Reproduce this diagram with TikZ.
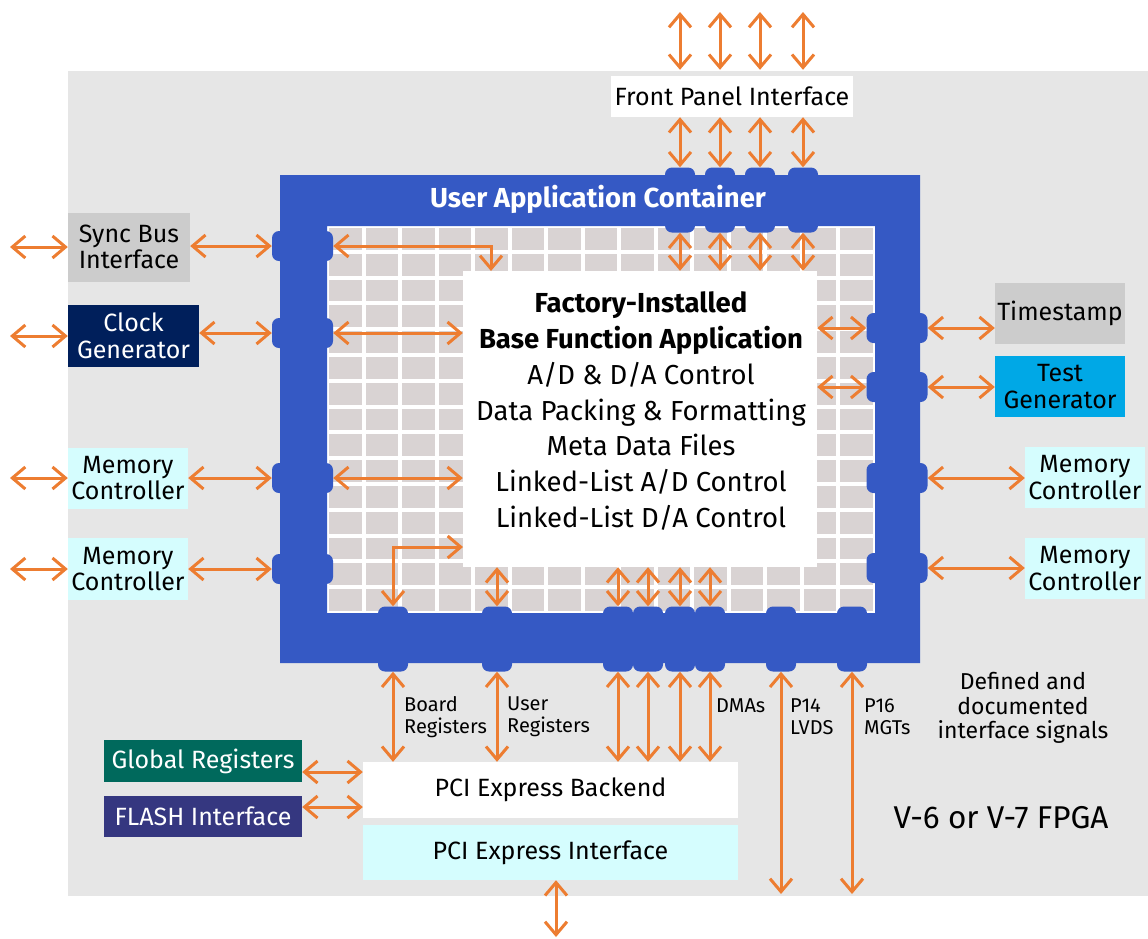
\documentclass[tikz,border=0pt]{standalone}
\usepackage{fontspec}
\setmainfont{Fira Sans}
\usetikzlibrary{arrows.meta}
\definecolor{bgg}{RGB}{230,230,230}
\definecolor{ublue}{RGB}{53,89,196}
\definecolor{aorange}{RGB}{237,125,49}
\definecolor{lcyan}{RGB}{213,253,254}
\definecolor{lgrey}{RGB}{204,204,204}
\definecolor{navy}{RGB}{0,31,91}
\definecolor{tgblue}{RGB}{0,168,230}
\definecolor{ggreen}{RGB}{0,105,92}
\definecolor{fpurple}{RGB}{53,55,128}
\definecolor{cellg}{RGB}{217,211,211}
\begin{document}
\begin{tikzpicture}[x=1pt,y=-1pt,
  box/.style={rectangle, inner sep=0pt, align=center, font=\fontsize{25}{26.5}\selectfont},
  blob/.style={rectangle, rounded corners=7pt, fill=ublue, inner sep=0pt},
  hblob/.style={blob, minimum width=61pt, minimum height=30pt},
  vblob/.style={blob, minimum width=30pt, minimum height=65pt},
  arr/.style={draw=aorange, line width=3pt, {Straight Barb[length=13pt,width=22pt]}-{Straight Barb[length=13pt,width=22pt]}},
  lbl/.style={inner sep=0pt, align=left, font=\fontsize{20}{22}\selectfont},
]
\useasboundingbox (0,0) rectangle (1148,938);
\fill[white] (0,0) rectangle (1148,938);
\fill[bgg] (68,71) rectangle (1148,896);

% grid
\fill[cellg] (327,226) rectangle (875,613);
\foreach \i in {0,...,15} \draw[white, line width=4pt] ({327+\i*548/15},226) -- ({327+\i*548/15},613);
\foreach \j in {0,...,15} \draw[white, line width=4pt] (327,{226+\j*387/15}) -- (875,{226+\j*387/15});
% blue frame
\fill[ublue, even odd rule] (280,175) rectangle (920,663) (327,226) rectangle (875,613);

% core box
\node[rectangle, fill=white, inner sep=0pt, minimum width=354pt, minimum height=296pt] (core) at (640,419) {};
\node[inner sep=0pt, align=center, font=\fontsize{27.5}{35.8}\selectfont] (coretext) at (641,411)
  {{\bfseries Factory-Installed}\\{\bfseries Base Function Application}\\A/D \& D/A Control\\Data Packing \& Formatting\\Meta Data Files\\Linked-List A/D Control\\Linked-List D/A Control};

% boxes
\node[box, fill=white, minimum width=242pt, minimum height=41pt] (fpi) at (732,96.5) {Front Panel Interface};
\node[box, fill=lgrey, minimum width=122pt, minimum height=69pt] (sync) at (129,247) {Sync Bus\\Interface};
\node[box, fill=navy, text=white, minimum width=131pt, minimum height=62pt] (clk) at (133.5,336) {Clock\\Generator};
\node[box, fill=lcyan, minimum width=120pt, minimum height=61pt] (mcl1) at (128,478) {Memory\\Controller};
\node[box, fill=lcyan, minimum width=120pt, minimum height=62pt] (mcl2) at (128,569) {Memory\\Controller};
\node[box, fill=lgrey, minimum width=130pt, minimum height=61pt] (ts) at (1060,313.5) {Timestamp};
\node[box, fill=tgblue, minimum width=130pt, minimum height=61pt] (tg) at (1060,386.5) {Test\\Generator};
\node[box, fill=lcyan, minimum width=120pt, minimum height=61pt] (mcr1) at (1085,477.5) {Memory\\Controller};
\node[box, fill=lcyan, minimum width=120pt, minimum height=61pt] (mcr2) at (1085,568.5) {Memory\\Controller};
\node[box, fill=white, minimum width=375pt, minimum height=56pt] (be) at (550.5,790) {PCI Express Backend};
\node[box, fill=lcyan, minimum width=375pt, minimum height=55pt] (pcii) at (550.5,852.5) {PCI Express Interface};
\node[box, fill=ggreen, text=white, minimum width=198pt, minimum height=42pt] (greg) at (203,761) {Global Registers};
\node[box, fill=fpurple, text=white, minimum width=198pt, minimum height=41pt] (flash) at (203,816.5) {FLASH Interface};

% blobs
\node[hblob] (bL1) at (302.5,246) {};
\node[hblob] (bL2) at (302.5,333) {};
\node[hblob] (bL3) at (302.5,478) {};
\node[hblob] (bL4) at (302.5,569) {};
\node[hblob] (bR1) at (897,328) {};
\node[hblob] (bR2) at (897,387) {};
\node[hblob] (bR3) at (897,478) {};
\node[hblob] (bR4) at (897,568) {};
\foreach \n/\x in {1/680,2/720,3/760,4/803} \node[vblob] (bT\n) at (\x,200) {};
\foreach \n/\x in {1/393,2/497,3/618,4/648,5/680,6/710,7/781,8/852} \node[vblob] (bB\n) at (\x,639) {};

\node[text=white, inner sep=0pt, font=\fontsize{27.5}{30}\selectfont\bfseries] (title) at (598,199) {User Application Container};

% coordinates for free ends
\coordinate (sL) at (10,247);
\coordinate (cL) at (10,336);
\coordinate (m1L) at (10,478);
\coordinate (m2L) at (10,569);
\coordinate (k1) at (491,271);
\coordinate (k2) at (463,547);
\coordinate (p14) at (781,894);
\coordinate (p16) at (852,894);
\coordinate (pcb) at (556,937);

% left side
\draw[arr] (sL) -- (sync.west);
\draw[arr] (cL) -- (clk.west);
\draw[arr] (m1L) -- (mcl1.west);
\draw[arr] (m2L) -- (mcl2.west);
\draw[arr] (sync.east |- bL1) -- (bL1.west);
\draw[arr] (clk.east |- bL2) -- (bL2.west);
\draw[arr] (mcl1.east |- bL3) -- (bL3.west);
\draw[arr] (mcl2.east |- bL4) -- (bL4.west);
\draw[arr] (bL1.east) -| (k1);
\draw[arr] (bL2.east) -- (bL2.east -| core.west);
\draw[arr] (bL3.east) -- (bL3.east -| core.west);
\draw[arr] (k2) -| (bB1.north);

% right side
\draw[arr] (core.east |- bR1) -- (bR1.west);
\draw[arr] (core.east |- bR2) -- (bR2.west);
\draw[arr] (bR1.east) -- (bR1.east -| ts.west);
\draw[arr] (bR2.east) -- (bR2.east -| tg.west);
\draw[arr] (bR4.east) -- (bR4.east -| mcr2.west);
\draw[arr] (bR3.east) -- (bR3.east -| mcr1.west);

% top
\foreach \n in {1,2,3,4} {
  \draw[arr] (bT\n |- 0,12) -- ([yshift=6pt]bT\n |- fpi.north);
  \draw[arr] (fpi.south -| bT\n) -- (bT\n.north);
  \draw[arr] (bT\n.south) -- (bT\n.south |- core.north);
}
% bottom
\foreach \n in {2,3,4,5,6} \draw[arr] (bB\n.north |- core.south) -- (bB\n.north);
\foreach \n in {1,2,3,4,5,6} \draw[arr] (bB\n.south) -- (bB\n.south |- be.north);
\draw[arr] (bB7.south) -- (p14);
\draw[arr] (bB8.south) -- (p16);
\draw[arr] ([yshift=-11pt]greg.east) -- ([yshift=-11pt]greg.east -| be.west);
\draw[arr] ([yshift=9.5pt]flash.east) -- ([yshift=9.5pt]flash.east -| be.west);
\draw[arr] ([xshift=5.5pt]pcii.south) -- (pcb);

% labels
\node[lbl, anchor=west] (lb1) at (404,717) {Board\\Registers};
\node[lbl, anchor=west] (lb2) at (507,717) {User\\Registers};
\node[lbl, anchor=west] (lb3) at (716,706) {DMAs};
\node[lbl, anchor=west] (lb4) at (790,717) {P14\\LVDS};
\node[lbl, anchor=west] (lb5) at (864,717) {P16\\MGTs};
\node[inner sep=0pt, align=center, font=\fontsize{23}{24.5}\selectfont] (def) at (1023,708) {Defined and\\documented\\interface signals};
\node[inner sep=0pt, font=\fontsize{31.5}{34}\selectfont] (fpga) at (1001,818) {V-6 or V-7 FPGA};
\end{tikzpicture}
\end{document}
